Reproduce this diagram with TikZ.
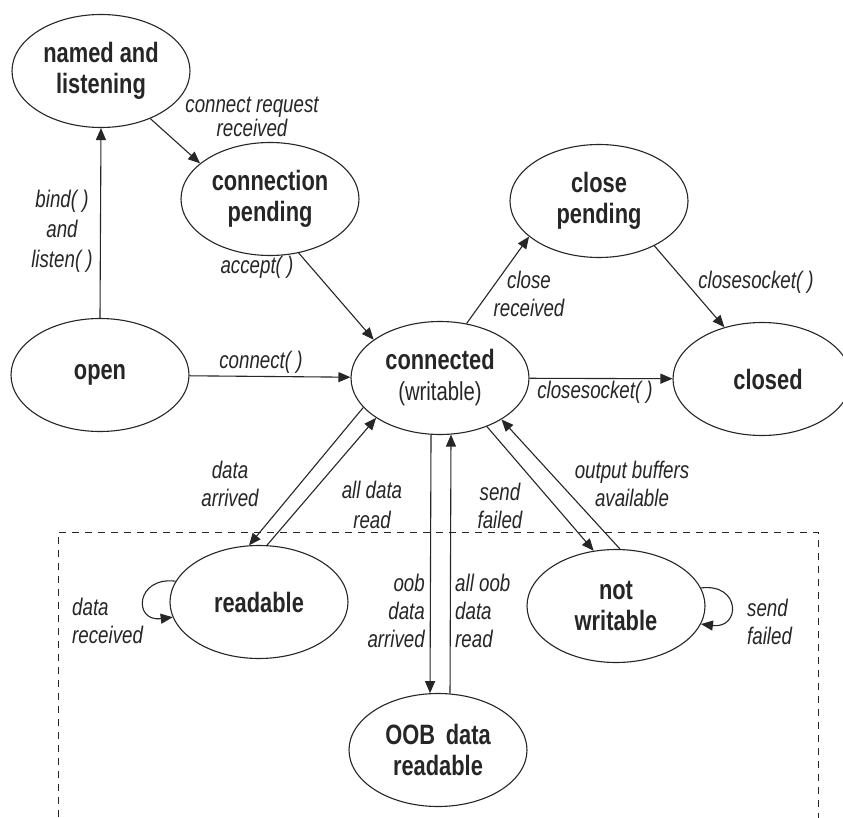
\documentclass[tikz,border=0pt]{standalone}
\usepackage{fontspec}
\setmainfont{Liberation Sans}[FakeStretch=0.78]
\usetikzlibrary{shapes.geometric,arrows.meta}
\definecolor{ink}{HTML}{262626}
\begin{document}
\begin{tikzpicture}[x=1pt,y=-1pt,
  state/.style={draw=ink, ellipse, line width=1.1pt, minimum width=178pt, minimum height=113pt, inner sep=0pt, align=center, text=ink, font=\fontsize{28}{31}\selectfont\bfseries},
  lbl/.style={text=ink, font=\fontsize{24}{28}\selectfont\itshape, inner sep=0pt},
  tr/.style={draw=ink, line width=1.1pt, -{Triangle[length=12pt,width=10pt]}},
  ln/.style={draw=ink, line width=1.1pt},
  zone/.style={draw=ink, line width=0.9pt, dash pattern=on 7pt off 6pt}]
\useasboundingbox (0,0) rectangle (843,818);
\fill[white] (0,0) rectangle (843,818);

% dashed zone
\draw[zone] (58,830) -- (58,532) -- (818,532) -- (818,830);

% states
\node[state] (named) at (101,71) {named and\\listening};
\node[state] (pend) at (270,199) {connection\\pending};
\node[state] (clpend) at (599,201) {close\\pending};
\node[state] (open) at (100,375) {open};
\node[state] (conn) at (440,378) {connected\\{\mdseries\fontsize{26}{31}\selectfont(writable)}};
\node[state] (closed) at (762,379) {\hspace*{12pt}closed};
\node[state] (read) at (259,602) {readable};
\node[state] (notw) at (616,606) {not\\writable};
\node[state] (oob) at (438,750) {OOB\, data\\readable};

% transitions
\draw[tr] (open.90) -- (named.south);
\draw[tr] (named.-44) -- (pend.153);
\draw[tr] (pend.-62) -- (conn.150);
\draw[tr] (open) -- (conn);
\draw[tr] (conn.64) -- (clpend.207);
\draw[tr] (clpend.-39) -- (closed.126);
\draw[tr] (conn) -- (closed);
\draw[tr] (conn.201) -- (read.100.5);
\draw[tr] (read.82) -- (conn.212);
\draw[tr] (conn.-99) -- (oob.98);
\draw[tr] (oob.78) -- (conn.-79);
\draw[tr] (conn.-46) -- (notw.112);
\draw[tr] (notw.86) -- (conn.-34);
\draw[tr] (read.166) .. controls +(-40,-5) and +(-40,5) .. (read.190);
\draw[tr] (notw.12) .. controls +(40,-5) and +(40,5) .. (notw.348);

% labels
\node[lbl, align=center] (lbind) at (62,231) {bind( )\\[2pt]and\\[2pt]listen( )};
\node[lbl, align=center] (lreq) at (252,117) {connect request\\[-4pt]received};
\node[lbl] (lacc) at (257,267) {accept( )};
\node[lbl] (lcon) at (261,362) {connect( )};
\node[lbl, align=center] (lclrec) at (529,294) {close\\received};
\node[lbl] (lcs1) at (756,282) {closesocket( )};
\node[lbl] (lcs2) at (595,392) {closesocket( )};
\node[lbl, align=center] (ldarr) at (230,484) {data\\arrived};
\node[lbl, align=center] (lallrd) at (372,505) {all data\\[2pt]read};
\node[lbl, align=center] (lsf1) at (500,506) {send\\failed};
\node[lbl, align=center] (lout) at (632,484) {output buffers\\available};
\node[lbl, align=right, anchor=east] (loobarr) at (425,611) {oob\\data\\arrived};
\node[lbl, align=left, anchor=west] (loobrd) at (455,611) {all oob\\data\\read};
\node[lbl, align=left, anchor=west] (ldrec) at (72,621) {data\\received};
\node[lbl, align=left, anchor=west] (lsf2) at (747,622) {send\\failed};
\end{tikzpicture}
\end{document}
